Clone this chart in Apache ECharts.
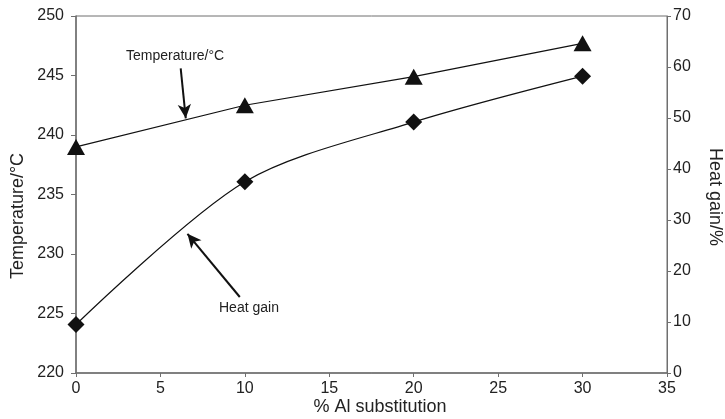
<!DOCTYPE html>
<html>
<head>
<meta charset="utf-8">
<script src="https://cdn.jsdelivr.net/npm/echarts@6/dist/echarts.min.js"></script>
<style>
  html, body { margin: 0; padding: 0; background: #fff; }
  #chart { width: 725px; height: 419px; }
</style>
</head>
<body>
<div id="chart"></div>
<script>
const xValues = [0, 10, 20, 30];
const temperature = [239.0, 242.5, 244.9, 247.7];
const heatGain = [9.5, 37.5, 49.2, 58.2];
const xTicks = [0, 35, 5];
const leftTicks = [220, 250, 5];
const rightTicks = [0, 70, 10];

const font = "'Liberation Sans', Arial, sans-serif";
const axisGrey = "#6f6f6f";

function pairs(xs, ys) {
  return xs.map((x, i) => [x, ys[i]]);
}

// axis titles sit a bit off-centre in the original, so they're drawn as graphics
function title(text, x, y, rotation) {
  return {
    type: "text",
    x: x,
    y: y,
    rotation: rotation,
    style: {
      text: text,
      fontSize: 18,
      fill: "#222",
      fontFamily: font,
      align: "center",
      verticalAlign: "middle"
    }
  };
}

const chart = echarts.init(document.getElementById("chart"));

chart.setOption({
  animation: false,
  backgroundColor: "#fff",
  textStyle: { fontFamily: font },
  grid: {
    left: 76,
    right: 58,
    top: 16,
    bottom: 46,
    outerBoundsMode: "none",
    containLabel: false,
    show: true,
    borderColor: axisGrey,
    borderWidth: 1
  },
  xAxis: {
    type: "value",
    min: xTicks[0],
    max: xTicks[1],
    interval: xTicks[2],
    axisLine: { lineStyle: { color: axisGrey, width: 1.5 } },
    axisTick: { lineStyle: { color: axisGrey }, length: 4 },
    axisLabel: { fontSize: 16, color: "#222", fontFamily: font, margin: 8 },
    splitLine: { show: false }
  },
  yAxis: [
    {
      type: "value",
      position: "left",
      min: leftTicks[0],
      max: leftTicks[1],
      interval: leftTicks[2],
      axisLine: { show: true, lineStyle: { color: axisGrey, width: 1.5 } },
      axisTick: { show: true, lineStyle: { color: axisGrey }, length: 5 },
      axisLabel: { fontSize: 16, color: "#222", fontFamily: font, margin: 12 },
      splitLine: { show: false }
    },
    {
      type: "value",
      position: "right",
      min: rightTicks[0],
      max: rightTicks[1],
      interval: rightTicks[2],
      axisLine: { show: true, lineStyle: { color: axisGrey, width: 1 } },
      axisTick: { show: true, lineStyle: { color: axisGrey }, length: 4 },
      axisLabel: { fontSize: 16, color: "#222", fontFamily: font, margin: 6 },
      splitLine: { show: false }
    }
  ],
  series: [
    {
      name: "Temperature/°C",
      type: "line",
      yAxisIndex: 0,
      data: pairs(xValues, temperature),
      symbol: "triangle",
      symbolSize: [18, 16],
      itemStyle: { color: "#111" },
      lineStyle: { color: "#111", width: 1.2 },
      markLine: {
        silent: true,
        symbol: ["none", "arrow"],
        symbolSize: [10, 14],
        label: { show: false },
        lineStyle: { color: "#111", width: 2, type: "solid" },
        data: [[{ coord: [6.2, 245.6] }, { coord: [6.5, 241.4] }]]
      }
    },
    {
      name: "Heat gain",
      type: "line",
      yAxisIndex: 1,
      data: pairs(xValues, heatGain),
      smooth: 0.3,
      symbol: "diamond",
      symbolSize: [17, 17],
      itemStyle: { color: "#111" },
      lineStyle: { color: "#111", width: 1.2 },
      markLine: {
        silent: true,
        symbol: ["none", "arrow"],
        symbolSize: [10, 14],
        label: { show: false },
        lineStyle: { color: "#111", width: 2, type: "solid" },
        data: [[{ coord: [9.7, 14.9] }, { coord: [6.6, 27.3] }]]
      }
    }
  ],
  graphic: [
    title("Temperature/°C", 18, 216, Math.PI / 2),
    title("Heat gain/%", 715, 197, -Math.PI / 2),
    title("% Al substitution", 380, 407, 0),
    {
      type: "text",
      left: 126,
      top: 49,
      style: { text: "Temperature/°C", fontSize: 14, fill: "#222", fontFamily: font }
    },
    {
      type: "text",
      left: 219,
      top: 301,
      style: { text: "Heat gain", fontSize: 14, fill: "#222", fontFamily: font }
    }
  ]
});
</script>
</body>
</html>
